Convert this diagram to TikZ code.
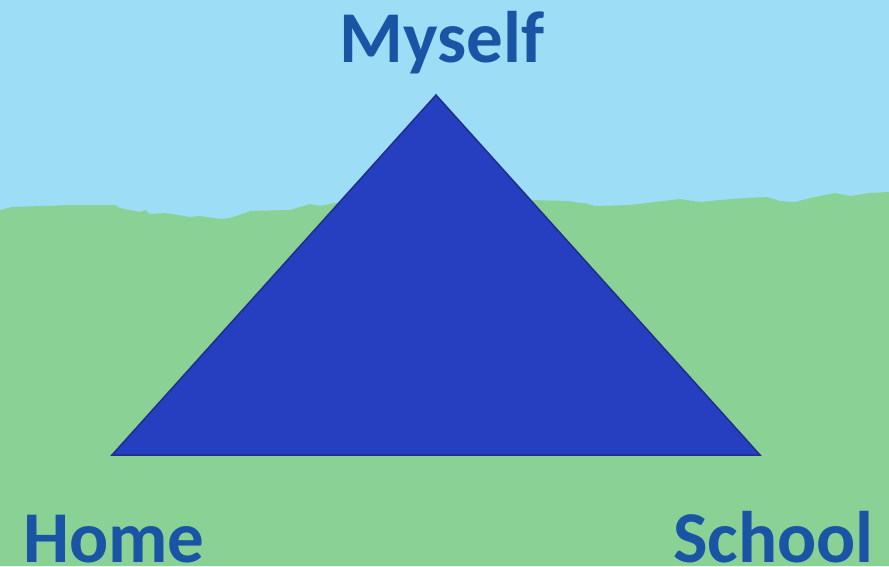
\documentclass[tikz,border=0pt]{standalone}
\usepackage{fontspec}
\setmainfont{Carlito}
\usetikzlibrary{positioning}
\definecolor{skyblue}{HTML}{9DDDF5}
\definecolor{grass}{HTML}{8AD196}
\definecolor{trifill}{HTML}{263EC0}
\definecolor{triedge}{HTML}{1F2F8C}
\definecolor{labelblue}{HTML}{1A55A5}
\tikzset{
  corner label/.style={font=\bfseries\fontsize{73}{73}\selectfont, text=labelblue, inner sep=0pt},
}

\begin{document}
\begin{tikzpicture}[x=1pt, y=-1pt]
% Background: sky and grass
\useasboundingbox (0,0) rectangle (889,566);
\fill[skyblue] (0,0) rectangle (889,566);
\fill[grass] (0,566) -- (0,210) -- (12,207) -- (70,205) -- (115,205) -- (120,208)
  -- (140,212) -- (145,210) -- (150,214) -- (165,213) -- (190,217) -- (200,216)
  -- (220,219) -- (230,218) -- (245,213) -- (250,211) -- (290,210) -- (310,204)
  -- (320,206) -- (335,203) -- (530,200) -- (570,201) -- (580,203) -- (585,203)
  -- (595,206) -- (630,205) -- (655,202) -- (680,199) -- (700,202) -- (720,200)
  -- (745,198) -- (767,197) -- (780,201) -- (795,202) -- (810,198) -- (830,194)
  -- (835,193) -- (850,196) -- (870,193) -- (889,192) -- (889,566) -- cycle;

% Triangle corners
\coordinate (apex) at (436,95);
\coordinate (left) at (112,455);
\coordinate (right) at (760,455);
\fill[trifill, draw=triedge, line width=1.5pt, line join=miter] (apex) -- (left) -- (right) -- cycle;

% Labels
\node[corner label, anchor=base] (myself) at (442,62) {Myself};
\node[corner label, anchor=base west] (home) at (23,562) {Home};
\node[corner label, anchor=base east] (school) at (874,562) {School};
\end{tikzpicture}
\end{document}
